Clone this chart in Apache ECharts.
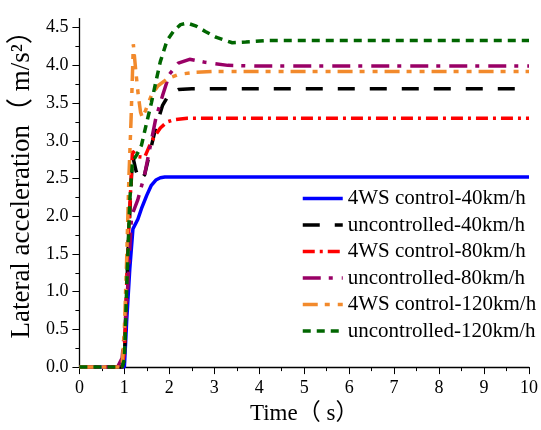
<!DOCTYPE html>
<html>
<head>
<meta charset="utf-8">
<script src="https://cdn.jsdelivr.net/npm/echarts@6/dist/echarts.min.js"></script>
<style>html,body{margin:0;padding:0;background:#fff}#c{width:541px;height:430px}</style>
</head>
<body>
<div id="c"></div>
<script>
// ---- data (time in s, lateral acceleration in m/s^2) ----
const seriesNames = [
  '4WS control-40km/h',
  'uncontrolled-40km/h',
  '4WS control-80km/h',
  'uncontrolled-80km/h',
  '4WS control-120km/h',
  'uncontrolled-120km/h'
];
const ctrl40 = [[0,0],[1.0,0],[1.05,0.6],[1.12,1.3],[1.19,1.83],[1.3,1.96],[1.38,2.1],[1.5,2.28],[1.6,2.41],[1.7,2.48],[1.8,2.51],[1.9,2.52],[10,2.52]];
const unc40 = [[0,0],[0.95,0],[1.0,0.1],[1.08,1.5],[1.18,2.81],[1.26,2.6],[1.35,2.47],[1.45,2.55],[1.55,2.8],[1.7,3.18],[1.85,3.47],[2.0,3.62],[2.2,3.68],[2.5,3.69],[10,3.69]];
const ctrl80 = [[0,0],[0.95,0],[1.0,0.2],[1.08,1.6],[1.18,2.86],[1.3,2.79],[1.45,2.78],[1.55,2.92],[1.65,3.04],[1.8,3.17],[1.95,3.25],[2.1,3.28],[2.4,3.3],[10,3.3]];
const unc80 = [[0,0],[0.85,0],[0.95,0.12],[1.05,0.8],[1.16,2.0],[1.3,2.22],[1.45,2.55],[1.55,2.85],[1.7,3.3],[1.85,3.6],[2.0,3.88],[2.2,4.03],[2.45,4.08],[2.8,4.04],[3.3,4.0],[4,3.99],[10,3.99]];
const ctrl120 = [[0,0],[0.95,0],[1.0,0.5],[1.05,1.4],[1.1,2.5],[1.15,3.3],[1.2,4.28],[1.25,3.95],[1.31,3.6],[1.36,3.38],[1.4,3.31],[1.47,3.4],[1.6,3.6],[1.75,3.73],[1.95,3.82],[2.2,3.88],[2.6,3.91],[3,3.92],[10,3.92]];
const unc120 = [[0,0],[0.95,0],[1.0,0.1],[1.06,1.2],[1.12,2.2],[1.18,2.72],[1.28,2.82],[1.38,2.94],[1.5,3.25],[1.6,3.5],[1.7,3.78],[1.8,4.05],[1.95,4.33],[2.1,4.46],[2.25,4.54],[2.4,4.56],[2.6,4.52],[2.8,4.45],[3.05,4.37],[3.4,4.3],[3.7,4.31],[4.2,4.33],[10,4.33]];
const yMajorTicks = [0,0.5,1.0,1.5,2.0,2.5,3.0,3.5,4.0,4.5];
const yMinorTicks = [0.25,0.75,1.25,1.75,2.25,2.75,3.25,3.75,4.25];
const xTitle = 'Time（ s）';
const yTitle = 'Lateral acceleration（ m/s²）';

// ---- styles ----
const FONT = "'Liberation Serif','Times New Roman','Noto Sans CJK SC',serif";
const styles = [
  {color:'#0000ff', type:'solid'},
  {color:'#000000', type:[17,15]},
  {color:'#ff0000', type:[12,5,3,5]},
  {color:'#990066', type:[18,8,4,9]},
  {color:'#f28a2c', type:[15,7,5,8,5,7]},
  {color:'#006600', type:[8,6]}
];
const datasets = [ctrl40, unc40, ctrl80, unc80, ctrl120, unc120];

const chart = echarts.init(document.getElementById('c'), null, {renderer:'canvas'});
const axisLine = {show:true, lineStyle:{color:'#000', width:1.3}};
chart.setOption({
  backgroundColor:'#fff',
  animation:false,
  grid:{left:79, right:10, top:18.6, bottom:54},
  legend:{
    orient:'vertical', left:301, top:188, padding:0,
    itemWidth:40, itemHeight:14, itemGap:5.5,
    itemStyle:{opacity:0},
    lineStyle:{width:3.5},
    textStyle:{fontFamily:FONT, fontSize:21, color:'#000'},
    data: seriesNames
  },
  xAxis:{
    type:'value', min:0, max:10, interval:1,
    name:xTitle, nameLocation:'middle', nameGap:30,
    nameTextStyle:{fontFamily:FONT, fontSize:23, color:'#000'},
    axisLine:axisLine,
    axisTick:{show:true, length:7, lineStyle:{color:'#000', width:1}},
    minorTick:{show:true, splitNumber:2, length:4, lineStyle:{color:'#000', width:1}},
    axisLabel:{fontFamily:FONT, fontSize:18, color:'#000', margin:12},
    splitLine:{show:false}
  },
  yAxis:[{
    type:'value', min:0, max:4.62, interval:0.5,
    name:yTitle, nameLocation:'middle', nameGap:38,
    nameTextStyle:{fontFamily:FONT, fontSize:27, color:'#000', padding:[0,0,0,30]},
    axisLine:axisLine,
    axisTick:{show:true, length:7, customValues:yMajorTicks, lineStyle:{color:'#000', width:1}},
    axisLabel:{fontFamily:FONT, fontSize:18, color:'#000', margin:11, customValues:yMajorTicks,
      formatter:v=>v.toFixed(1)},
    splitLine:{show:false}
  },{
    type:'value', min:0, max:4.62, position:'left',
    axisLine:{show:false},
    axisTick:{show:true, length:4, customValues:yMinorTicks, lineStyle:{color:'#000', width:1}},
    axisLabel:{show:false},
    splitLine:{show:false}
  }],
  series: datasets.map((d,i)=>({
    name:seriesNames[i], type:'line', data:d, yAxisIndex:0,
    symbol:'none', clip:false, smooth:false,
    color:styles[i].color,
    lineStyle:{color:styles[i].color, width:3.5, type:styles[i].type}
  }))
});
</script>
</body>
</html>
